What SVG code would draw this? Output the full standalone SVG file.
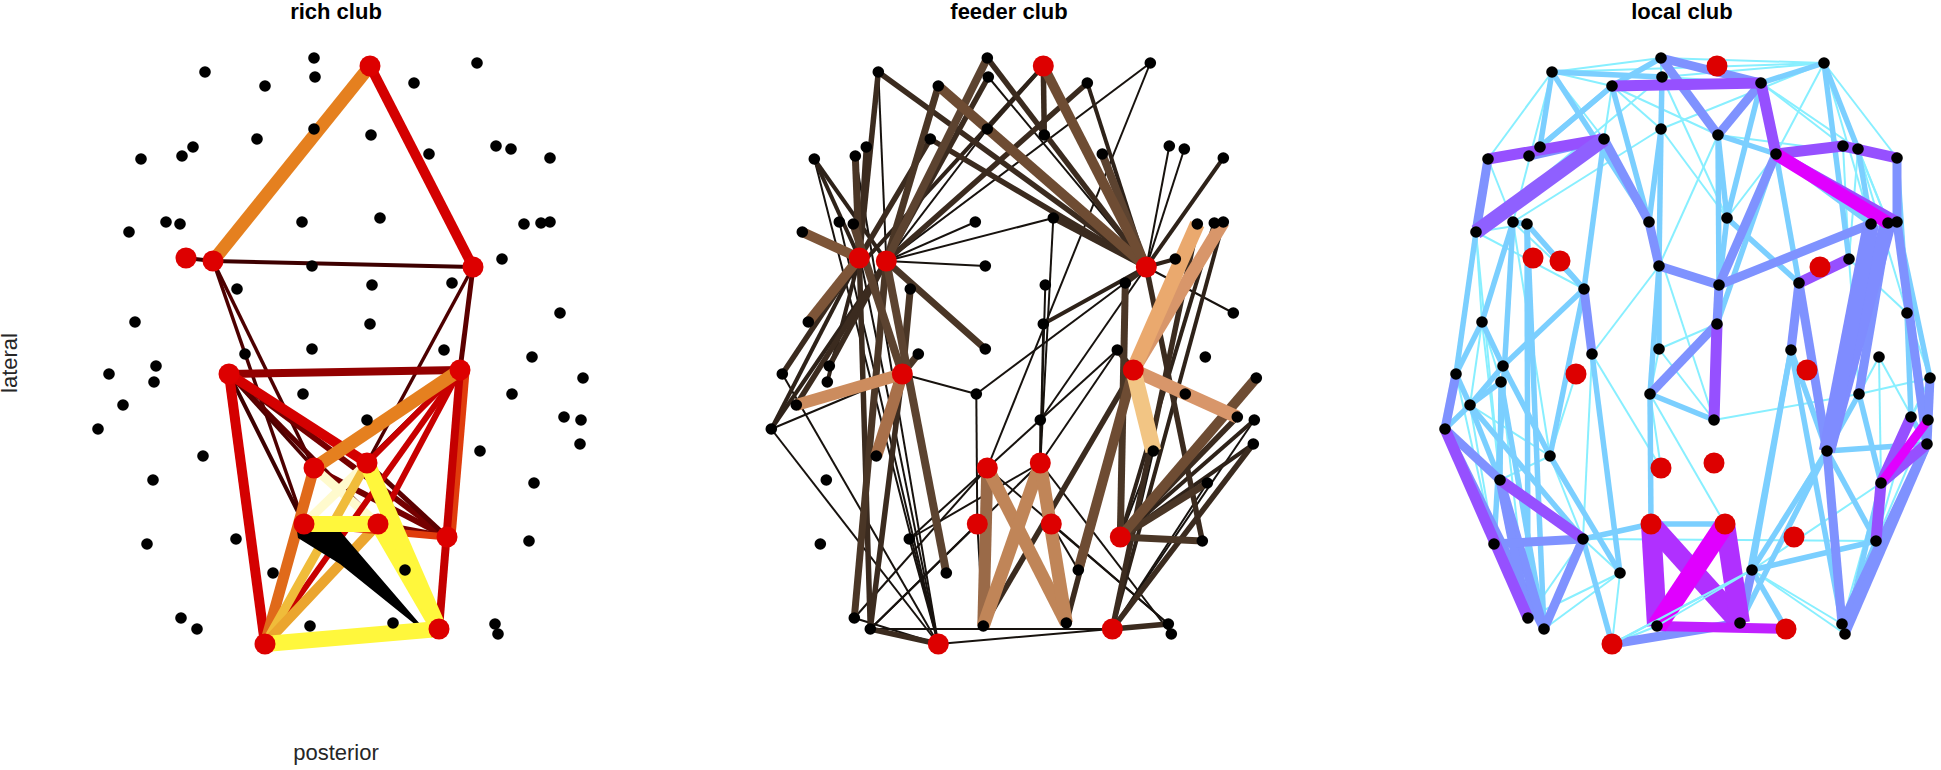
<svg xmlns="http://www.w3.org/2000/svg" width="1941" height="770" viewBox="0 0 1941 770">
<style>
.t{font-family:"Liberation Sans",Arial,sans-serif;font-size:22px;font-weight:bold;fill:#000;text-anchor:middle}
.lab{font-family:"Liberation Sans",Arial,sans-serif;font-size:22px;fill:#262626;text-anchor:middle}
.n{fill:#000}
.r{fill:#dd0000}
line{fill:none;stroke-linecap:butt}
.a1{stroke:#3d0000;stroke-width:4}
.a2{stroke:#4d0000;stroke-width:3.5}
.a3{stroke:#5c0000;stroke-width:5}
.a4{stroke:#750000;stroke-width:6}
.a5{stroke:#930000;stroke-width:8}
.a6{stroke:#c80000;stroke-width:6}
.a7{stroke:#d40000;stroke-width:10}
.a7b{stroke:#c40000;stroke-width:8}
.a8{stroke:#e03c0c;stroke-width:7}
.a9{stroke:#e06a1a;stroke-width:11}
.a10{stroke:#e5801f;stroke-width:13}
.a11{stroke:#eba52e;stroke-width:10}
.a11b{stroke:#f0bc3a;stroke-width:9}
.a12{stroke:#fff73c;stroke-width:16}
.a13{stroke:#fffacd;stroke-width:9}
.f0{stroke:#17120e;stroke-width:2}
.f1{stroke:#2e2219;stroke-width:4}
.f2{stroke:#3b2b1f;stroke-width:5.5}
.f3{stroke:#4a3626;stroke-width:7}
.f4{stroke:#5c4330;stroke-width:8}
.f5{stroke:#6e4c33;stroke-width:10}
.f6{stroke:#7d5538;stroke-width:10}
.f7{stroke:#9a6a48;stroke-width:12}
.f7b{stroke:#a8704a;stroke-width:12}
.f8{stroke:#c08558;stroke-width:13}
.f8b{stroke:#cc8c5e;stroke-width:12}
.f9{stroke:#eaa96e;stroke-width:15}
.f10{stroke:#f2c584;stroke-width:16}
.f11{stroke:#d8966a;stroke-width:13}
.l0{stroke:#88efff;stroke-width:2}
.l1{stroke:#7bcfff;stroke-width:5.5}
.l2{stroke:#7f92ff;stroke-width:9}
.l2w{stroke:#7f8cff;stroke-width:16}
.l3{stroke:#9650ff;stroke-width:11}
.l3w{stroke:#8f60ff;stroke-width:15}
.l4{stroke:#b030ff;stroke-width:20}
.l4b{stroke:#c020ff;stroke-width:10}
.l5{stroke:#e000ff;stroke-width:20}
.l5m{stroke:#e000ff;stroke-width:13}
.l5s{stroke:#e000ff;stroke-width:9}
</style>

<g id="titles">
<text class="t" x="336" y="19">rich club</text>
<text class="t" x="1009" y="19">feeder club</text>
<text class="t" x="1682" y="19">local club</text>
<text class="lab" x="336" y="760">posterior</text>
<text class="lab" transform="translate(17 363) rotate(-90)">lateral</text>
</g>

<!-- ================= RICH CLUB ================= -->
<g id="rich-panel">
<g id="rich-edges">
<line class="a1" x1="186" y1="258" x2="213" y2="261"/>
<line class="a1" x1="213" y1="261" x2="473" y2="267"/>
<line class="a2" x1="213" y1="261" x2="304" y2="524"/>
<line class="a2" x1="213" y1="261" x2="314" y2="468"/>
<line class="a2" x1="473" y1="267" x2="367" y2="463"/>
<line class="a3" x1="473" y1="267" x2="460" y2="370"/>
<line class="a1" x1="229" y1="374" x2="304" y2="524"/>
<line class="a2" x1="229" y1="374" x2="314" y2="468"/>
<line class="a3" x1="229" y1="374" x2="378" y2="524"/>
<line class="a4" x1="229" y1="374" x2="447" y2="537"/>
<line class="a3" x1="460" y1="370" x2="304" y2="524"/>
<line class="a4" x1="314" y1="468" x2="447" y2="537"/>
<line class="a3" x1="367" y1="463" x2="447" y2="537"/>
<line class="a4" x1="378" y1="524" x2="447" y2="537"/>
<line class="a5" x1="229" y1="374" x2="460" y2="370"/>
<line class="a13" x1="314" y1="468" x2="378" y2="524"/>
<line class="a13" x1="367" y1="463" x2="304" y2="524"/>
<line class="a6" x1="460" y1="370" x2="367" y2="463"/>
<line class="a6" x1="460" y1="370" x2="378" y2="524"/>
<line class="a6" x1="265" y1="644" x2="460" y2="370"/>
<line class="a8" x1="466" y1="372" x2="452" y2="537"/>
<line class="a7b" x1="460" y1="370" x2="439" y2="629"/>
<line class="a7" x1="229" y1="374" x2="265" y2="644"/>
<line class="a7" x1="370" y1="66" x2="473" y2="267"/>
<line class="a7" x1="229" y1="374" x2="367" y2="463"/>
<line class="a9" x1="265" y1="644" x2="314" y2="468"/>
<line class="a11b" x1="265" y1="644" x2="367" y2="463"/>
<line class="a11" x1="265" y1="644" x2="378" y2="524"/>
<line class="a10" x1="460" y1="370" x2="314" y2="468"/>
<line class="a10" x1="213" y1="261" x2="370" y2="66"/>
<line class="a8" x1="304" y1="524" x2="447" y2="537"/>
<polygon points="297,531 340,531 432,638 340,564 298,538" fill="#000"/>
<line class="a12" x1="304" y1="524" x2="378" y2="524"/>
<line class="a12" x1="378" y1="524" x2="439" y2="629"/>
<line class="a12" x1="367" y1="463" x2="439" y2="629"/>
<line class="a12" x1="265" y1="644" x2="439" y2="629"/>
</g>
<g id="rich-nodes">
<g id="rc-b1"><circle class="n" cx="205" cy="72" r="5.8"/></g>
<g id="rc-b2"><circle class="n" cx="314" cy="58" r="5.8"/></g>
<g id="rc-b3"><circle class="n" cx="315" cy="77" r="5.8"/></g>
<g id="rc-b4"><circle class="n" cx="265" cy="86" r="5.8"/></g>
<g id="rc-b5"><circle class="n" cx="314" cy="129" r="5.8"/></g>
<g id="rc-b6"><circle class="n" cx="257" cy="139" r="5.8"/></g>
<g id="rc-b7"><circle class="n" cx="193" cy="147" r="5.8"/></g>
<g id="rc-b8"><circle class="n" cx="182" cy="156" r="5.8"/></g>
<g id="rc-b9"><circle class="n" cx="141" cy="159" r="5.8"/></g>
<g id="rc-b10"><circle class="n" cx="166" cy="222" r="5.8"/></g>
<g id="rc-b11"><circle class="n" cx="180" cy="224" r="5.8"/></g>
<g id="rc-b12"><circle class="n" cx="129" cy="232" r="5.8"/></g>
<g id="rc-b13"><circle class="n" cx="302" cy="222" r="5.8"/></g>
<g id="rc-b14"><circle class="n" cx="312" cy="266" r="5.8"/></g>
<g id="rc-b15"><circle class="n" cx="237" cy="289" r="5.8"/></g>
<g id="rc-b16"><circle class="n" cx="135" cy="322" r="5.8"/></g>
<g id="rc-b17"><circle class="n" cx="245" cy="354" r="5.8"/></g>
<g id="rc-b18"><circle class="n" cx="312" cy="349" r="5.8"/></g>
<g id="rc-b19"><circle class="n" cx="477" cy="63" r="5.8"/></g>
<g id="rc-b20"><circle class="n" cx="414" cy="83" r="5.8"/></g>
<g id="rc-b21"><circle class="n" cx="371" cy="135" r="5.8"/></g>
<g id="rc-b22"><circle class="n" cx="429" cy="154" r="5.8"/></g>
<g id="rc-b23"><circle class="n" cx="496" cy="146" r="5.8"/></g>
<g id="rc-b24"><circle class="n" cx="511" cy="149" r="5.8"/></g>
<g id="rc-b25"><circle class="n" cx="550" cy="158" r="5.8"/></g>
<g id="rc-b26"><circle class="n" cx="380" cy="218" r="5.8"/></g>
<g id="rc-b27"><circle class="n" cx="524" cy="224" r="5.8"/></g>
<g id="rc-b28"><circle class="n" cx="541" cy="223" r="5.8"/></g>
<g id="rc-b29"><circle class="n" cx="550" cy="222" r="5.8"/></g>
<g id="rc-b30"><circle class="n" cx="502" cy="259" r="5.8"/></g>
<g id="rc-b31"><circle class="n" cx="372" cy="285" r="5.8"/></g>
<g id="rc-b32"><circle class="n" cx="452" cy="283" r="5.8"/></g>
<g id="rc-b33"><circle class="n" cx="370" cy="324" r="5.8"/></g>
<g id="rc-b34"><circle class="n" cx="560" cy="313" r="5.8"/></g>
<g id="rc-b35"><circle class="n" cx="444" cy="350" r="5.8"/></g>
<g id="rc-b36"><circle class="n" cx="532" cy="357" r="5.8"/></g>
<g id="rc-b37"><circle class="n" cx="109" cy="374" r="5.8"/></g>
<g id="rc-b38"><circle class="n" cx="156" cy="366" r="5.8"/></g>
<g id="rc-b39"><circle class="n" cx="154" cy="382" r="5.8"/></g>
<g id="rc-b40"><circle class="n" cx="123" cy="405" r="5.8"/></g>
<g id="rc-b41"><circle class="n" cx="98" cy="429" r="5.8"/></g>
<g id="rc-b42"><circle class="n" cx="303" cy="394" r="5.8"/></g>
<g id="rc-b43"><circle class="n" cx="203" cy="456" r="5.8"/></g>
<g id="rc-b44"><circle class="n" cx="153" cy="480" r="5.8"/></g>
<g id="rc-b45"><circle class="n" cx="147" cy="544" r="5.8"/></g>
<g id="rc-b46"><circle class="n" cx="236" cy="539" r="5.8"/></g>
<g id="rc-b47"><circle class="n" cx="273" cy="573" r="5.8"/></g>
<g id="rc-b48"><circle class="n" cx="181" cy="618" r="5.8"/></g>
<g id="rc-b49"><circle class="n" cx="197" cy="629" r="5.8"/></g>
<g id="rc-b50"><circle class="n" cx="310" cy="626" r="5.8"/></g>
<g id="rc-b51"><circle class="n" cx="583" cy="378" r="5.8"/></g>
<g id="rc-b52"><circle class="n" cx="512" cy="394" r="5.8"/></g>
<g id="rc-b53"><circle class="n" cx="367" cy="420" r="5.8"/></g>
<g id="rc-b54"><circle class="n" cx="564" cy="417" r="5.8"/></g>
<g id="rc-b55"><circle class="n" cx="581" cy="420" r="5.8"/></g>
<g id="rc-b56"><circle class="n" cx="480" cy="451" r="5.8"/></g>
<g id="rc-b57"><circle class="n" cx="580" cy="444" r="5.8"/></g>
<g id="rc-b58"><circle class="n" cx="534" cy="483" r="5.8"/></g>
<g id="rc-b59"><circle class="n" cx="529" cy="541" r="5.8"/></g>
<g id="rc-b60"><circle class="n" cx="405" cy="570" r="5.8"/></g>
<g id="rc-b61"><circle class="n" cx="393" cy="623" r="5.8"/></g>
<g id="rc-b62"><circle class="n" cx="495" cy="624" r="5.8"/></g>
<g id="rc-b63"><circle class="n" cx="498" cy="634" r="5.8"/></g>
<g id="rc-r1"><circle class="r" cx="186" cy="258" r="10.5"/></g>
<g id="rc-r2"><circle class="r" cx="213" cy="261" r="10.5"/></g>
<g id="rc-r3"><circle class="r" cx="370" cy="66" r="10.5"/></g>
<g id="rc-r4"><circle class="r" cx="473" cy="267" r="10.5"/></g>
<g id="rc-r5"><circle class="r" cx="229" cy="374" r="10.5"/></g>
<g id="rc-r6"><circle class="r" cx="460" cy="370" r="10.5"/></g>
<g id="rc-r7"><circle class="r" cx="314" cy="468" r="10.5"/></g>
<g id="rc-r8"><circle class="r" cx="367" cy="463" r="10.5"/></g>
<g id="rc-r9"><circle class="r" cx="304" cy="524" r="10.5"/></g>
<g id="rc-r10"><circle class="r" cx="378" cy="524" r="10.5"/></g>
<g id="rc-r11"><circle class="r" cx="447" cy="537" r="10.5"/></g>
<g id="rc-r12"><circle class="r" cx="265" cy="644" r="10.5"/></g>
<g id="rc-r13"><circle class="r" cx="439" cy="629" r="10.5"/></g>
</g>
</g>

<!-- ================= FEEDER CLUB ================= -->
<g id="feeder-panel" transform="translate(673.3 0)">
<g id="feeder-edges">
<line class="f0" x1="213" y1="261" x2="205" y2="72"/>
<line class="f0" x1="213" y1="261" x2="314" y2="129"/>
<line class="f0" x1="213" y1="261" x2="477" y2="63"/>
<line class="f0" x1="213" y1="261" x2="302" y2="222"/>
<line class="f0" x1="213" y1="261" x2="312" y2="266"/>
<line class="f0" x1="213" y1="261" x2="380" y2="218"/>
<line class="f0" x1="229" y1="374" x2="98" y2="429"/>
<line class="f0" x1="229" y1="374" x2="303" y2="394"/>
<line class="f0" x1="265" y1="644" x2="166" y2="222"/>
<line class="f0" x1="265" y1="644" x2="180" y2="224"/>
<line class="f0" x1="265" y1="644" x2="182" y2="156"/>
<line class="f0" x1="265" y1="644" x2="141" y2="159"/>
<line class="f0" x1="265" y1="644" x2="109" y2="374"/>
<line class="f0" x1="265" y1="644" x2="98" y2="429"/>
<line class="f0" x1="265" y1="644" x2="181" y2="618"/>
<line class="f0" x1="265" y1="644" x2="236" y2="539"/>
<line class="f0" x1="265" y1="644" x2="495" y2="624"/>
<line class="f0" x1="314" y1="468" x2="477" y2="63"/>
<line class="f0" x1="314" y1="468" x2="181" y2="618"/>
<line class="f0" x1="314" y1="468" x2="236" y2="539"/>
<line class="f0" x1="314" y1="468" x2="495" y2="624"/>
<line class="f0" x1="314" y1="468" x2="444" y2="350"/>
<line class="f0" x1="304" y1="524" x2="303" y2="394"/>
<line class="f0" x1="304" y1="524" x2="310" y2="626"/>
<line class="f0" x1="304" y1="524" x2="197" y2="629"/>
<line class="f0" x1="367" y1="463" x2="367" y2="420"/>
<line class="f0" x1="367" y1="463" x2="444" y2="350"/>
<line class="f0" x1="367" y1="463" x2="370" y2="324"/>
<line class="f0" x1="367" y1="463" x2="372" y2="285"/>
<line class="f0" x1="367" y1="463" x2="380" y2="218"/>
<line class="f0" x1="367" y1="463" x2="236" y2="539"/>
<line class="f0" x1="367" y1="463" x2="197" y2="629"/>
<line class="f0" x1="367" y1="463" x2="498" y2="634"/>
<line class="f0" x1="378" y1="524" x2="495" y2="624"/>
<line class="f0" x1="378" y1="524" x2="405" y2="570"/>
<line class="f0" x1="473" y1="267" x2="315" y2="77"/>
<line class="f0" x1="473" y1="267" x2="314" y2="129"/>
<line class="f0" x1="473" y1="267" x2="496" y2="146"/>
<line class="f0" x1="473" y1="267" x2="511" y2="149"/>
<line class="f0" x1="473" y1="267" x2="560" y2="313"/>
<line class="f0" x1="473" y1="267" x2="367" y2="420"/>
<line class="f0" x1="473" y1="267" x2="303" y2="394"/>
<line class="f0" x1="447" y1="537" x2="480" y2="451"/>
<line class="f0" x1="439" y1="629" x2="581" y2="420"/>
<line class="f0" x1="439" y1="629" x2="534" y2="483"/>
<line class="f0" x1="439" y1="629" x2="197" y2="629"/>
<line class="f0" x1="439" y1="629" x2="480" y2="451"/>
<line class="f1" x1="186" y1="258" x2="141" y2="159"/>
<line class="f1" x1="186" y1="258" x2="154" y2="382"/>
<line class="f1" x1="186" y1="258" x2="98" y2="429"/>
<line class="f1" x1="213" y1="261" x2="141" y2="159"/>
<line class="f1" x1="213" y1="261" x2="98" y2="429"/>
<line class="f1" x1="473" y1="267" x2="414" y2="83"/>
<line class="f1" x1="473" y1="267" x2="370" y2="324"/>
<line class="f1" x1="473" y1="267" x2="550" y2="158"/>
<line class="f1" x1="473" y1="267" x2="502" y2="259"/>
<line class="f1" x1="447" y1="537" x2="581" y2="420"/>
<line class="f1" x1="447" y1="537" x2="580" y2="444"/>
<line class="f1" x1="447" y1="537" x2="541" y2="223"/>
<line class="f1" x1="439" y1="629" x2="550" y2="222"/>
<line class="f1" x1="370" y1="66" x2="135" y2="322"/>
<line class="f1" x1="370" y1="66" x2="314" y2="129"/>
<line class="f2" x1="186" y1="258" x2="193" y2="147"/>
<line class="f2" x1="186" y1="258" x2="205" y2="72"/>
<line class="f2" x1="186" y1="258" x2="257" y2="139"/>
<line class="f2" x1="186" y1="258" x2="109" y2="374"/>
<line class="f2" x1="186" y1="258" x2="197" y2="629"/>
<line class="f2" x1="213" y1="261" x2="315" y2="77"/>
<line class="f2" x1="213" y1="261" x2="414" y2="83"/>
<line class="f2" x1="213" y1="261" x2="156" y2="366"/>
<line class="f2" x1="213" y1="261" x2="123" y2="405"/>
<line class="f2" x1="229" y1="374" x2="197" y2="629"/>
<line class="f2" x1="265" y1="644" x2="197" y2="629"/>
<line class="f2" x1="460" y1="370" x2="444" y2="350"/>
<line class="f2" x1="460" y1="370" x2="393" y2="623"/>
<line class="f2" x1="460" y1="370" x2="310" y2="626"/>
<line class="f2" x1="473" y1="267" x2="205" y2="72"/>
<line class="f2" x1="473" y1="267" x2="314" y2="58"/>
<line class="f2" x1="473" y1="267" x2="257" y2="139"/>
<line class="f2" x1="473" y1="267" x2="380" y2="218"/>
<line class="f2" x1="473" y1="267" x2="529" y2="541"/>
<line class="f2" x1="473" y1="267" x2="452" y2="283"/>
<line class="f2" x1="447" y1="537" x2="564" y2="417"/>
<line class="f2" x1="439" y1="629" x2="495" y2="624"/>
<line class="f2" x1="439" y1="629" x2="580" y2="444"/>
<line class="f2" x1="439" y1="629" x2="524" y2="224"/>
<line class="f2" x1="370" y1="66" x2="371" y2="135"/>
<line class="f3" x1="186" y1="258" x2="182" y2="156"/>
<line class="f3" x1="213" y1="261" x2="265" y2="86"/>
<line class="f3" x1="213" y1="261" x2="312" y2="349"/>
<line class="f3" x1="213" y1="261" x2="181" y2="618"/>
<line class="f3" x1="229" y1="374" x2="237" y2="289"/>
<line class="f3" x1="229" y1="374" x2="245" y2="354"/>
<line class="f3" x1="447" y1="537" x2="534" y2="483"/>
<line class="f3" x1="447" y1="537" x2="529" y2="541"/>
<line class="f3" x1="447" y1="537" x2="452" y2="283"/>
<line class="f4" x1="213" y1="261" x2="314" y2="58"/>
<line class="f4" x1="213" y1="261" x2="273" y2="573"/>
<line class="f4" x1="229" y1="374" x2="180" y2="224"/>
<line class="f4" x1="473" y1="267" x2="429" y2="154"/>
<line class="f5" x1="473" y1="267" x2="265" y2="86"/>
<line class="f5" x1="473" y1="267" x2="370" y2="66"/>
<line class="f5" x1="460" y1="370" x2="405" y2="570"/>
<line class="f5" x1="447" y1="537" x2="583" y2="378"/>
<line class="f6" x1="186" y1="258" x2="129" y2="232"/>
<line class="f6" x1="186" y1="258" x2="135" y2="322"/>
<line class="f7b" x1="229" y1="374" x2="203" y2="456"/>
<line class="f7" x1="314" y1="468" x2="310" y2="626"/>
<line class="f8" x1="314" y1="468" x2="393" y2="623"/>
<line class="f8" x1="367" y1="463" x2="310" y2="626"/>
<line class="f8" x1="367" y1="463" x2="393" y2="623"/>
<line class="f8b" x1="229" y1="374" x2="123" y2="405"/>
<line class="f11" x1="460" y1="370" x2="550" y2="222"/>
<line class="f11" x1="460" y1="370" x2="564" y2="417"/>
<line class="f9" x1="460" y1="370" x2="524" y2="224"/>
<line class="f10" x1="460" y1="370" x2="480" y2="451"/>
</g>
<g id="feeder-nodes">
<g id="fc-b1"><circle class="n" cx="205" cy="72" r="5.8"/></g>
<g id="fc-b2"><circle class="n" cx="314" cy="58" r="5.8"/></g>
<g id="fc-b3"><circle class="n" cx="315" cy="77" r="5.8"/></g>
<g id="fc-b4"><circle class="n" cx="265" cy="86" r="5.8"/></g>
<g id="fc-b5"><circle class="n" cx="314" cy="129" r="5.8"/></g>
<g id="fc-b6"><circle class="n" cx="257" cy="139" r="5.8"/></g>
<g id="fc-b7"><circle class="n" cx="193" cy="147" r="5.8"/></g>
<g id="fc-b8"><circle class="n" cx="182" cy="156" r="5.8"/></g>
<g id="fc-b9"><circle class="n" cx="141" cy="159" r="5.8"/></g>
<g id="fc-b10"><circle class="n" cx="166" cy="222" r="5.8"/></g>
<g id="fc-b11"><circle class="n" cx="180" cy="224" r="5.8"/></g>
<g id="fc-b12"><circle class="n" cx="129" cy="232" r="5.8"/></g>
<g id="fc-b13"><circle class="n" cx="302" cy="222" r="5.8"/></g>
<g id="fc-b14"><circle class="n" cx="312" cy="266" r="5.8"/></g>
<g id="fc-b15"><circle class="n" cx="237" cy="289" r="5.8"/></g>
<g id="fc-b16"><circle class="n" cx="135" cy="322" r="5.8"/></g>
<g id="fc-b17"><circle class="n" cx="245" cy="354" r="5.8"/></g>
<g id="fc-b18"><circle class="n" cx="312" cy="349" r="5.8"/></g>
<g id="fc-b19"><circle class="n" cx="477" cy="63" r="5.8"/></g>
<g id="fc-b20"><circle class="n" cx="414" cy="83" r="5.8"/></g>
<g id="fc-b21"><circle class="n" cx="371" cy="135" r="5.8"/></g>
<g id="fc-b22"><circle class="n" cx="429" cy="154" r="5.8"/></g>
<g id="fc-b23"><circle class="n" cx="496" cy="146" r="5.8"/></g>
<g id="fc-b24"><circle class="n" cx="511" cy="149" r="5.8"/></g>
<g id="fc-b25"><circle class="n" cx="550" cy="158" r="5.8"/></g>
<g id="fc-b26"><circle class="n" cx="380" cy="218" r="5.8"/></g>
<g id="fc-b27"><circle class="n" cx="524" cy="224" r="5.8"/></g>
<g id="fc-b28"><circle class="n" cx="541" cy="223" r="5.8"/></g>
<g id="fc-b29"><circle class="n" cx="550" cy="222" r="5.8"/></g>
<g id="fc-b30"><circle class="n" cx="502" cy="259" r="5.8"/></g>
<g id="fc-b31"><circle class="n" cx="372" cy="285" r="5.8"/></g>
<g id="fc-b32"><circle class="n" cx="452" cy="283" r="5.8"/></g>
<g id="fc-b33"><circle class="n" cx="370" cy="324" r="5.8"/></g>
<g id="fc-b34"><circle class="n" cx="560" cy="313" r="5.8"/></g>
<g id="fc-b35"><circle class="n" cx="444" cy="350" r="5.8"/></g>
<g id="fc-b36"><circle class="n" cx="532" cy="357" r="5.8"/></g>
<g id="fc-b37"><circle class="n" cx="109" cy="374" r="5.8"/></g>
<g id="fc-b38"><circle class="n" cx="156" cy="366" r="5.8"/></g>
<g id="fc-b39"><circle class="n" cx="154" cy="382" r="5.8"/></g>
<g id="fc-b40"><circle class="n" cx="123" cy="405" r="5.8"/></g>
<g id="fc-b41"><circle class="n" cx="98" cy="429" r="5.8"/></g>
<g id="fc-b42"><circle class="n" cx="303" cy="394" r="5.8"/></g>
<g id="fc-b43"><circle class="n" cx="203" cy="456" r="5.8"/></g>
<g id="fc-b44"><circle class="n" cx="153" cy="480" r="5.8"/></g>
<g id="fc-b45"><circle class="n" cx="147" cy="544" r="5.8"/></g>
<g id="fc-b46"><circle class="n" cx="236" cy="539" r="5.8"/></g>
<g id="fc-b47"><circle class="n" cx="273" cy="573" r="5.8"/></g>
<g id="fc-b48"><circle class="n" cx="181" cy="618" r="5.8"/></g>
<g id="fc-b49"><circle class="n" cx="197" cy="629" r="5.8"/></g>
<g id="fc-b50"><circle class="n" cx="310" cy="626" r="5.8"/></g>
<g id="fc-b51"><circle class="n" cx="583" cy="378" r="5.8"/></g>
<g id="fc-b52"><circle class="n" cx="512" cy="394" r="5.8"/></g>
<g id="fc-b53"><circle class="n" cx="367" cy="420" r="5.8"/></g>
<g id="fc-b54"><circle class="n" cx="564" cy="417" r="5.8"/></g>
<g id="fc-b55"><circle class="n" cx="581" cy="420" r="5.8"/></g>
<g id="fc-b56"><circle class="n" cx="480" cy="451" r="5.8"/></g>
<g id="fc-b57"><circle class="n" cx="580" cy="444" r="5.8"/></g>
<g id="fc-b58"><circle class="n" cx="534" cy="483" r="5.8"/></g>
<g id="fc-b59"><circle class="n" cx="529" cy="541" r="5.8"/></g>
<g id="fc-b60"><circle class="n" cx="405" cy="570" r="5.8"/></g>
<g id="fc-b61"><circle class="n" cx="393" cy="623" r="5.8"/></g>
<g id="fc-b62"><circle class="n" cx="495" cy="624" r="5.8"/></g>
<g id="fc-b63"><circle class="n" cx="498" cy="634" r="5.8"/></g>
<g id="fc-r1"><circle class="r" cx="186" cy="258" r="10.5"/></g>
<g id="fc-r2"><circle class="r" cx="213" cy="261" r="10.5"/></g>
<g id="fc-r3"><circle class="r" cx="370" cy="66" r="10.5"/></g>
<g id="fc-r4"><circle class="r" cx="473" cy="267" r="10.5"/></g>
<g id="fc-r5"><circle class="r" cx="229" cy="374" r="10.5"/></g>
<g id="fc-r6"><circle class="r" cx="460" cy="370" r="10.5"/></g>
<g id="fc-r7"><circle class="r" cx="314" cy="468" r="10.5"/></g>
<g id="fc-r8"><circle class="r" cx="367" cy="463" r="10.5"/></g>
<g id="fc-r9"><circle class="r" cx="304" cy="524" r="10.5"/></g>
<g id="fc-r10"><circle class="r" cx="378" cy="524" r="10.5"/></g>
<g id="fc-r11"><circle class="r" cx="447" cy="537" r="10.5"/></g>
<g id="fc-r12"><circle class="r" cx="265" cy="644" r="10.5"/></g>
<g id="fc-r13"><circle class="r" cx="439" cy="629" r="10.5"/></g>
</g>
</g>

<!-- ================= LOCAL CLUB ================= -->
<g id="local-panel" transform="translate(1347 0)">
<g id="local-edges">
<line class="l0" x1="205" y1="72" x2="265" y2="86"/>
<line class="l0" x1="205" y1="72" x2="314" y2="58"/>
<line class="l0" x1="205" y1="72" x2="166" y2="222"/>
<line class="l0" x1="205" y1="72" x2="257" y2="139"/>
<line class="l0" x1="205" y1="72" x2="477" y2="63"/>
<line class="l0" x1="205" y1="72" x2="141" y2="159"/>
<line class="l0" x1="314" y1="58" x2="477" y2="63"/>
<line class="l0" x1="314" y1="58" x2="314" y2="129"/>
<line class="l0" x1="315" y1="77" x2="129" y2="232"/>
<line class="l0" x1="315" y1="77" x2="380" y2="218"/>
<line class="l0" x1="315" y1="77" x2="414" y2="83"/>
<line class="l0" x1="315" y1="77" x2="477" y2="63"/>
<line class="l0" x1="265" y1="86" x2="257" y2="139"/>
<line class="l0" x1="265" y1="86" x2="314" y2="129"/>
<line class="l0" x1="265" y1="86" x2="371" y2="135"/>
<line class="l0" x1="265" y1="86" x2="302" y2="222"/>
<line class="l0" x1="477" y1="63" x2="429" y2="154"/>
<line class="l0" x1="477" y1="63" x2="550" y2="158"/>
<line class="l0" x1="477" y1="63" x2="524" y2="224"/>
<line class="l0" x1="477" y1="63" x2="541" y2="223"/>
<line class="l0" x1="414" y1="83" x2="496" y2="146"/>
<line class="l0" x1="414" y1="83" x2="511" y2="149"/>
<line class="l0" x1="371" y1="135" x2="312" y2="266"/>
<line class="l0" x1="371" y1="135" x2="550" y2="158"/>
<line class="l0" x1="496" y1="146" x2="511" y2="149"/>
<line class="l0" x1="496" y1="146" x2="502" y2="259"/>
<line class="l0" x1="511" y1="149" x2="541" y2="223"/>
<line class="l0" x1="511" y1="149" x2="502" y2="259"/>
<line class="l0" x1="312" y1="266" x2="245" y2="354"/>
<line class="l0" x1="302" y1="222" x2="312" y2="266"/>
<line class="l0" x1="237" y1="289" x2="166" y2="222"/>
<line class="l0" x1="237" y1="289" x2="129" y2="232"/>
<line class="l0" x1="312" y1="349" x2="367" y2="420"/>
<line class="l0" x1="367" y1="420" x2="512" y2="394"/>
<line class="l0" x1="129" y1="232" x2="135" y2="322"/>
<line class="l0" x1="129" y1="232" x2="180" y2="224"/>
<line class="l0" x1="129" y1="232" x2="153" y2="480"/>
<line class="l0" x1="135" y1="322" x2="154" y2="382"/>
<line class="l0" x1="135" y1="322" x2="153" y2="480"/>
<line class="l0" x1="123" y1="405" x2="203" y2="456"/>
<line class="l0" x1="123" y1="405" x2="147" y2="544"/>
<line class="l0" x1="109" y1="374" x2="147" y2="544"/>
<line class="l0" x1="203" y1="456" x2="153" y2="480"/>
<line class="l0" x1="203" y1="456" x2="236" y2="539"/>
<line class="l0" x1="166" y1="222" x2="203" y2="456"/>
<line class="l0" x1="154" y1="382" x2="181" y2="618"/>
<line class="l0" x1="236" y1="539" x2="273" y2="573"/>
<line class="l0" x1="236" y1="539" x2="181" y2="618"/>
<line class="l0" x1="181" y1="618" x2="273" y2="573"/>
<line class="l0" x1="197" y1="629" x2="273" y2="573"/>
<line class="l0" x1="512" y1="394" x2="583" y2="378"/>
<line class="l0" x1="512" y1="394" x2="405" y2="570"/>
<line class="l0" x1="405" y1="570" x2="498" y2="634"/>
<line class="l0" x1="405" y1="570" x2="495" y2="624"/>
<line class="l0" x1="534" y1="483" x2="405" y2="570"/>
<line class="l0" x1="236" y1="539" x2="529" y2="541"/>
<line class="l0" x1="314" y1="129" x2="166" y2="222"/>
<line class="l0" x1="314" y1="129" x2="477" y2="63"/>
<line class="l0" x1="303" y1="394" x2="312" y2="349"/>
<line class="l0" x1="273" y1="573" x2="265" y2="644"/>
<line class="l0" x1="257" y1="139" x2="237" y2="289"/>
<line class="l0" x1="141" y1="159" x2="166" y2="222"/>
<line class="l0" x1="135" y1="322" x2="123" y2="405"/>
<line class="l0" x1="314" y1="129" x2="380" y2="218"/>
<line class="l0" x1="302" y1="222" x2="367" y2="420"/>
<line class="l0" x1="380" y1="218" x2="429" y2="154"/>
<line class="l0" x1="372" y1="285" x2="367" y2="420"/>
<line class="l0" x1="370" y1="324" x2="312" y2="349"/>
<line class="l0" x1="245" y1="354" x2="236" y2="539"/>
<line class="l0" x1="153" y1="480" x2="181" y2="618"/>
<line class="l0" x1="147" y1="544" x2="197" y2="629"/>
<line class="l0" x1="534" y1="483" x2="495" y2="624"/>
<line class="l0" x1="583" y1="378" x2="564" y2="417"/>
<line class="l0" x1="583" y1="378" x2="534" y2="483"/>
<line class="l0" x1="532" y1="357" x2="512" y2="394"/>
<line class="l0" x1="532" y1="357" x2="580" y2="444"/>
<line class="l0" x1="532" y1="357" x2="534" y2="483"/>
<line class="l0" x1="511" y1="149" x2="560" y2="313"/>
<line class="l0" x1="524" y1="224" x2="541" y2="223"/>
<line class="l0" x1="502" y1="259" x2="560" y2="313"/>
<line class="l0" x1="502" y1="259" x2="512" y2="394"/>
<line class="l0" x1="560" y1="313" x2="583" y2="378"/>
<line class="l0" x1="529" y1="541" x2="498" y2="634"/>
<line class="l0" x1="581" y1="420" x2="529" y2="541"/>
<line class="l0" x1="564" y1="417" x2="529" y2="541"/>
<line class="l0" x1="265" y1="644" x2="310" y2="626"/>
<line class="l0" x1="229" y1="374" x2="203" y2="456"/>
<line class="l0" x1="378" y1="524" x2="303" y2="394"/>
<line class="l0" x1="314" y1="468" x2="303" y2="394"/>
<line class="l0" x1="314" y1="468" x2="245" y2="354"/>
<line class="l0" x1="265" y1="644" x2="405" y2="570"/>
<line class="l1" x1="205" y1="72" x2="315" y2="77"/>
<line class="l1" x1="205" y1="72" x2="193" y2="147"/>
<line class="l1" x1="205" y1="72" x2="302" y2="222"/>
<line class="l1" x1="314" y1="58" x2="265" y2="86"/>
<line class="l1" x1="315" y1="77" x2="314" y2="129"/>
<line class="l1" x1="265" y1="86" x2="193" y2="147"/>
<line class="l1" x1="265" y1="86" x2="182" y2="156"/>
<line class="l1" x1="265" y1="86" x2="302" y2="222"/>
<line class="l1" x1="314" y1="129" x2="302" y2="222"/>
<line class="l1" x1="314" y1="129" x2="312" y2="266"/>
<line class="l1" x1="414" y1="83" x2="477" y2="63"/>
<line class="l1" x1="414" y1="83" x2="380" y2="218"/>
<line class="l1" x1="477" y1="63" x2="511" y2="149"/>
<line class="l1" x1="477" y1="63" x2="502" y2="259"/>
<line class="l1" x1="371" y1="135" x2="380" y2="218"/>
<line class="l1" x1="371" y1="135" x2="372" y2="285"/>
<line class="l1" x1="429" y1="154" x2="370" y2="324"/>
<line class="l1" x1="429" y1="154" x2="452" y2="283"/>
<line class="l1" x1="511" y1="149" x2="550" y2="158"/>
<line class="l1" x1="511" y1="149" x2="524" y2="224"/>
<line class="l1" x1="550" y1="158" x2="560" y2="313"/>
<line class="l1" x1="550" y1="222" x2="583" y2="378"/>
<line class="l1" x1="372" y1="285" x2="380" y2="218"/>
<line class="l1" x1="370" y1="324" x2="303" y2="394"/>
<line class="l1" x1="312" y1="266" x2="303" y2="394"/>
<line class="l1" x1="312" y1="349" x2="312" y2="266"/>
<line class="l1" x1="237" y1="289" x2="180" y2="224"/>
<line class="l1" x1="237" y1="289" x2="203" y2="456"/>
<line class="l1" x1="237" y1="289" x2="156" y2="366"/>
<line class="l1" x1="245" y1="354" x2="273" y2="573"/>
<line class="l1" x1="303" y1="394" x2="367" y2="420"/>
<line class="l1" x1="129" y1="232" x2="109" y2="374"/>
<line class="l1" x1="166" y1="222" x2="180" y2="224"/>
<line class="l1" x1="166" y1="222" x2="135" y2="322"/>
<line class="l1" x1="166" y1="222" x2="147" y2="544"/>
<line class="l1" x1="180" y1="224" x2="181" y2="618"/>
<line class="l1" x1="180" y1="224" x2="197" y2="629"/>
<line class="l1" x1="135" y1="322" x2="109" y2="374"/>
<line class="l1" x1="135" y1="322" x2="156" y2="366"/>
<line class="l1" x1="109" y1="374" x2="123" y2="405"/>
<line class="l1" x1="156" y1="366" x2="123" y2="405"/>
<line class="l1" x1="154" y1="382" x2="123" y2="405"/>
<line class="l1" x1="154" y1="382" x2="153" y2="480"/>
<line class="l1" x1="123" y1="405" x2="98" y2="429"/>
<line class="l1" x1="123" y1="405" x2="153" y2="480"/>
<line class="l1" x1="123" y1="405" x2="236" y2="539"/>
<line class="l1" x1="147" y1="544" x2="181" y2="618"/>
<line class="l1" x1="203" y1="456" x2="273" y2="573"/>
<line class="l1" x1="156" y1="366" x2="203" y2="456"/>
<line class="l1" x1="154" y1="382" x2="197" y2="629"/>
<line class="l1" x1="480" y1="451" x2="529" y2="541"/>
<line class="l1" x1="480" y1="451" x2="512" y2="394"/>
<line class="l1" x1="480" y1="451" x2="405" y2="570"/>
<line class="l1" x1="480" y1="451" x2="393" y2="623"/>
<line class="l1" x1="480" y1="451" x2="580" y2="444"/>
<line class="l1" x1="444" y1="350" x2="405" y2="570"/>
<line class="l1" x1="444" y1="350" x2="393" y2="623"/>
<line class="l1" x1="444" y1="350" x2="495" y2="624"/>
<line class="l1" x1="444" y1="350" x2="480" y2="451"/>
<line class="l1" x1="512" y1="394" x2="534" y2="483"/>
<line class="l1" x1="583" y1="378" x2="581" y2="420"/>
<line class="l1" x1="564" y1="417" x2="560" y2="313"/>
<line class="l1" x1="564" y1="417" x2="580" y2="444"/>
<line class="l1" x1="534" y1="483" x2="498" y2="634"/>
<line class="l1" x1="529" y1="541" x2="495" y2="624"/>
<line class="l1" x1="529" y1="541" x2="405" y2="570"/>
<line class="l1" x1="405" y1="570" x2="439" y2="629"/>
<line class="l1" x1="304" y1="524" x2="236" y2="539"/>
<line class="l1" x1="304" y1="524" x2="378" y2="524"/>
<line class="l1" x1="304" y1="524" x2="303" y2="394"/>
<line class="l1" x1="257" y1="139" x2="237" y2="289"/>
<line class="l1" x1="429" y1="154" x2="524" y2="224"/>
<line class="l1" x1="371" y1="135" x2="429" y2="154"/>
<line class="l1" x1="380" y1="218" x2="452" y2="283"/>
<line class="l1" x1="212" y1="262" x2="237" y2="289"/>
<line class="l1" x1="265" y1="644" x2="236" y2="539"/>
<line class="l2" x1="314" y1="58" x2="414" y2="83"/>
<line class="l2" x1="314" y1="58" x2="371" y2="135"/>
<line class="l2" x1="257" y1="139" x2="182" y2="156"/>
<line class="l2" x1="257" y1="139" x2="302" y2="222"/>
<line class="l2" x1="302" y1="222" x2="312" y2="266"/>
<line class="l2" x1="414" y1="83" x2="371" y2="135"/>
<line class="l2" x1="429" y1="154" x2="372" y2="285"/>
<line class="l2" x1="550" y1="158" x2="550" y2="222"/>
<line class="l2" x1="541" y1="223" x2="512" y2="394"/>
<line class="l2" x1="550" y1="222" x2="580" y2="444"/>
<line class="l2" x1="372" y1="285" x2="524" y2="224"/>
<line class="l2" x1="372" y1="285" x2="370" y2="324"/>
<line class="l2" x1="372" y1="285" x2="312" y2="266"/>
<line class="l2" x1="370" y1="324" x2="303" y2="394"/>
<line class="l2" x1="237" y1="289" x2="245" y2="354"/>
<line class="l2" x1="141" y1="159" x2="129" y2="232"/>
<line class="l2" x1="109" y1="374" x2="98" y2="429"/>
<line class="l2" x1="98" y1="429" x2="153" y2="480"/>
<line class="l2" x1="98" y1="429" x2="197" y2="629"/>
<line class="l2" x1="153" y1="480" x2="197" y2="629"/>
<line class="l2" x1="153" y1="480" x2="181" y2="618"/>
<line class="l2" x1="147" y1="544" x2="236" y2="539"/>
<line class="l2" x1="236" y1="539" x2="197" y2="629"/>
<line class="l2" x1="480" y1="451" x2="495" y2="624"/>
<line class="l2" x1="444" y1="350" x2="452" y2="283"/>
<line class="l2" x1="452" y1="283" x2="480" y2="451"/>
<line class="l2" x1="583" y1="378" x2="580" y2="444"/>
<line class="l2" x1="580" y1="444" x2="495" y2="624"/>
<line class="l2" x1="580" y1="444" x2="498" y2="634"/>
<line class="l2" x1="405" y1="570" x2="393" y2="623"/>
<line class="l2" x1="265" y1="644" x2="393" y2="623"/>
<line class="l2w" x1="541" y1="223" x2="480" y2="451"/>
<line class="l2w" x1="524" y1="224" x2="480" y2="451"/>
<line class="l3" x1="265" y1="86" x2="414" y2="83"/>
<line class="l3" x1="141" y1="159" x2="257" y2="139"/>
<line class="l3w" x1="129" y1="232" x2="257" y2="139"/>
<line class="l3" x1="414" y1="83" x2="429" y2="154"/>
<line class="l3" x1="429" y1="154" x2="496" y2="146"/>
<line class="l3" x1="496" y1="146" x2="550" y2="158"/>
<line class="l3" x1="452" y1="283" x2="502" y2="259"/>
<line class="l3" x1="370" y1="324" x2="367" y2="420"/>
<line class="l3" x1="98" y1="429" x2="181" y2="618"/>
<line class="l3" x1="153" y1="480" x2="236" y2="539"/>
<line class="l3" x1="564" y1="417" x2="534" y2="483"/>
<line class="l3" x1="580" y1="444" x2="534" y2="483"/>
<line class="l3" x1="534" y1="483" x2="529" y2="541"/>
<line class="l3" x1="429" y1="154" x2="550" y2="222"/>
<line class="l5s" x1="581" y1="420" x2="534" y2="483"/>
<line class="l4" x1="304" y1="524" x2="310" y2="626"/>
<line class="l4" x1="304" y1="524" x2="393" y2="623"/>
<line class="l4" x1="378" y1="524" x2="393" y2="623"/>
<line class="l4b" x1="310" y1="626" x2="439" y2="629"/>
<line class="l5" x1="378" y1="524" x2="310" y2="626"/>
<line class="l5m" x1="429" y1="154" x2="541" y2="223"/>
<line class="l0" x1="265" y1="644" x2="405" y2="570"/>
<line class="l0" x1="310" y1="626" x2="405" y2="570"/>
</g>
<g id="local-nodes">
<g id="lc-b1"><circle class="n" cx="205" cy="72" r="5.8"/></g>
<g id="lc-b2"><circle class="n" cx="314" cy="58" r="5.8"/></g>
<g id="lc-b3"><circle class="n" cx="315" cy="77" r="5.8"/></g>
<g id="lc-b4"><circle class="n" cx="265" cy="86" r="5.8"/></g>
<g id="lc-b5"><circle class="n" cx="314" cy="129" r="5.8"/></g>
<g id="lc-b6"><circle class="n" cx="257" cy="139" r="5.8"/></g>
<g id="lc-b7"><circle class="n" cx="193" cy="147" r="5.8"/></g>
<g id="lc-b8"><circle class="n" cx="182" cy="156" r="5.8"/></g>
<g id="lc-b9"><circle class="n" cx="141" cy="159" r="5.8"/></g>
<g id="lc-b10"><circle class="n" cx="166" cy="222" r="5.8"/></g>
<g id="lc-b11"><circle class="n" cx="180" cy="224" r="5.8"/></g>
<g id="lc-b12"><circle class="n" cx="129" cy="232" r="5.8"/></g>
<g id="lc-b13"><circle class="n" cx="302" cy="222" r="5.8"/></g>
<g id="lc-b14"><circle class="n" cx="312" cy="266" r="5.8"/></g>
<g id="lc-b15"><circle class="n" cx="237" cy="289" r="5.8"/></g>
<g id="lc-b16"><circle class="n" cx="135" cy="322" r="5.8"/></g>
<g id="lc-b17"><circle class="n" cx="245" cy="354" r="5.8"/></g>
<g id="lc-b18"><circle class="n" cx="312" cy="349" r="5.8"/></g>
<g id="lc-b19"><circle class="n" cx="477" cy="63" r="5.8"/></g>
<g id="lc-b20"><circle class="n" cx="414" cy="83" r="5.8"/></g>
<g id="lc-b21"><circle class="n" cx="371" cy="135" r="5.8"/></g>
<g id="lc-b22"><circle class="n" cx="429" cy="154" r="5.8"/></g>
<g id="lc-b23"><circle class="n" cx="496" cy="146" r="5.8"/></g>
<g id="lc-b24"><circle class="n" cx="511" cy="149" r="5.8"/></g>
<g id="lc-b25"><circle class="n" cx="550" cy="158" r="5.8"/></g>
<g id="lc-b26"><circle class="n" cx="380" cy="218" r="5.8"/></g>
<g id="lc-b27"><circle class="n" cx="524" cy="224" r="5.8"/></g>
<g id="lc-b28"><circle class="n" cx="541" cy="223" r="5.8"/></g>
<g id="lc-b29"><circle class="n" cx="550" cy="222" r="5.8"/></g>
<g id="lc-b30"><circle class="n" cx="502" cy="259" r="5.8"/></g>
<g id="lc-b31"><circle class="n" cx="372" cy="285" r="5.8"/></g>
<g id="lc-b32"><circle class="n" cx="452" cy="283" r="5.8"/></g>
<g id="lc-b33"><circle class="n" cx="370" cy="324" r="5.8"/></g>
<g id="lc-b34"><circle class="n" cx="560" cy="313" r="5.8"/></g>
<g id="lc-b35"><circle class="n" cx="444" cy="350" r="5.8"/></g>
<g id="lc-b36"><circle class="n" cx="532" cy="357" r="5.8"/></g>
<g id="lc-b37"><circle class="n" cx="109" cy="374" r="5.8"/></g>
<g id="lc-b38"><circle class="n" cx="156" cy="366" r="5.8"/></g>
<g id="lc-b39"><circle class="n" cx="154" cy="382" r="5.8"/></g>
<g id="lc-b40"><circle class="n" cx="123" cy="405" r="5.8"/></g>
<g id="lc-b41"><circle class="n" cx="98" cy="429" r="5.8"/></g>
<g id="lc-b42"><circle class="n" cx="303" cy="394" r="5.8"/></g>
<g id="lc-b43"><circle class="n" cx="203" cy="456" r="5.8"/></g>
<g id="lc-b44"><circle class="n" cx="153" cy="480" r="5.8"/></g>
<g id="lc-b45"><circle class="n" cx="147" cy="544" r="5.8"/></g>
<g id="lc-b46"><circle class="n" cx="236" cy="539" r="5.8"/></g>
<g id="lc-b47"><circle class="n" cx="273" cy="573" r="5.8"/></g>
<g id="lc-b48"><circle class="n" cx="181" cy="618" r="5.8"/></g>
<g id="lc-b49"><circle class="n" cx="197" cy="629" r="5.8"/></g>
<g id="lc-b50"><circle class="n" cx="310" cy="626" r="5.8"/></g>
<g id="lc-b51"><circle class="n" cx="583" cy="378" r="5.8"/></g>
<g id="lc-b52"><circle class="n" cx="512" cy="394" r="5.8"/></g>
<g id="lc-b53"><circle class="n" cx="367" cy="420" r="5.8"/></g>
<g id="lc-b54"><circle class="n" cx="564" cy="417" r="5.8"/></g>
<g id="lc-b55"><circle class="n" cx="581" cy="420" r="5.8"/></g>
<g id="lc-b56"><circle class="n" cx="480" cy="451" r="5.8"/></g>
<g id="lc-b57"><circle class="n" cx="580" cy="444" r="5.8"/></g>
<g id="lc-b58"><circle class="n" cx="534" cy="483" r="5.8"/></g>
<g id="lc-b59"><circle class="n" cx="529" cy="541" r="5.8"/></g>
<g id="lc-b60"><circle class="n" cx="405" cy="570" r="5.8"/></g>
<g id="lc-b61"><circle class="n" cx="393" cy="623" r="5.8"/></g>
<g id="lc-b62"><circle class="n" cx="495" cy="624" r="5.8"/></g>
<g id="lc-b63"><circle class="n" cx="498" cy="634" r="5.8"/></g>
<g id="lc-r1"><circle class="r" cx="186" cy="258" r="10.5"/></g>
<g id="lc-r2"><circle class="r" cx="213" cy="261" r="10.5"/></g>
<g id="lc-r3"><circle class="r" cx="370" cy="66" r="10.5"/></g>
<g id="lc-r4"><circle class="r" cx="473" cy="267" r="10.5"/></g>
<g id="lc-r5"><circle class="r" cx="229" cy="374" r="10.5"/></g>
<g id="lc-r6"><circle class="r" cx="460" cy="370" r="10.5"/></g>
<g id="lc-r7"><circle class="r" cx="314" cy="468" r="10.5"/></g>
<g id="lc-r8"><circle class="r" cx="367" cy="463" r="10.5"/></g>
<g id="lc-r9"><circle class="r" cx="304" cy="524" r="10.5"/></g>
<g id="lc-r10"><circle class="r" cx="378" cy="524" r="10.5"/></g>
<g id="lc-r11"><circle class="r" cx="447" cy="537" r="10.5"/></g>
<g id="lc-r12"><circle class="r" cx="265" cy="644" r="10.5"/></g>
<g id="lc-r13"><circle class="r" cx="439" cy="629" r="10.5"/></g>
</g>
</g>
</svg>
